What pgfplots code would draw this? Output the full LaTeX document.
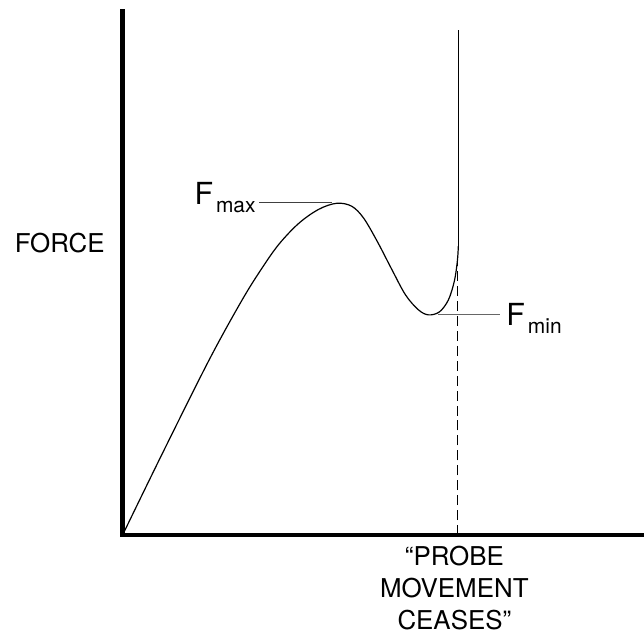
\documentclass[border=0pt]{standalone}
\usepackage{pgfplots}
\pgfplotsset{compat=1.18}
\usepackage{fontspec}
\setmainfont{TeX Gyre Heros}
\begin{document}
\begin{tikzpicture}
\begin{axis}[
    scale only axis,
    width=521pt, height=526pt,
    xmin=0, xmax=521, ymin=0, ymax=526,
    axis lines=left,
    axis line style={-, line width=4.6pt, line cap=rect},
    ticks=none,
    clip=false,
]
% force curve (smooth part)
\addplot[black, line width=1.2pt, smooth, tension=0.55] coordinates {
    (0,0) (40,82) (87,176) (120,236) (140,268) (157,292) (177,313)
    (197,327) (215,333) (230,330) (242,318) (256,294) (270,267)
    (284,241) (297,226) (307,221) (318,224) (327,236) (333,255)
    (336,275) (337,290)
};
% steep rise after probe stops
\addplot[black, line width=1.2pt] coordinates {(337,290) (337,507)};
% probe movement ceases marker
\addplot[black, line width=1pt, dash pattern=on 10pt off 5pt] coordinates {(336,0) (336,285)};
% leader lines
\addplot[black!75, line width=0.9pt] coordinates {(137,334) (210,334)};
\addplot[black!60, line width=0.9pt] coordinates {(317,221) (379,221)};

\node[anchor=center, font=\fontsize{26}{30}\selectfont] at (axis cs:-63,293) {FORCE};
\node[anchor=base west, inner sep=0pt] at (axis cs:72,332)
    {\fontsize{30.5}{32}\selectfont F\kern3pt\raisebox{-8pt}{\fontsize{21}{22}\selectfont max}};
\node[anchor=base west, inner sep=0pt] at (axis cs:385,210)
    {\fontsize{30.5}{32}\selectfont F\kern3pt\raisebox{-8pt}{\fontsize{21}{22}\selectfont min}};
\node[anchor=north, align=center, inner sep=0pt, font=\fontsize{26}{32}\selectfont]
    at (axis cs:333,-11) {“PROBE\\MOVEMENT\\CEASES”};

\path (axis cs:-123,-100) rectangle (axis cs:521,537);
\end{axis}
\end{tikzpicture}
\end{document}
